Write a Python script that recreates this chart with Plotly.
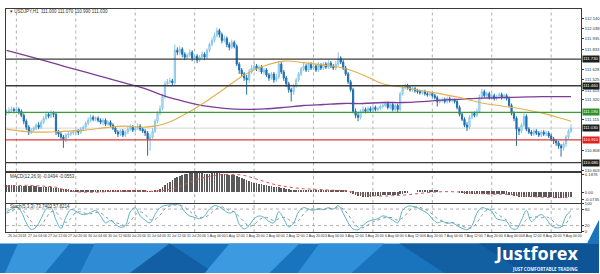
import plotly.graph_objects as go

W, H = 600, 274

# ---------------- data (USDJPY H1) ----------------
first_open = 111.18
closes = [
111.19,111.21,111.22,111.21,111.22,111.20,111.16,111.10,111.04,110.99,
111.01,111.03,111.06,111.04,111.09,111.13,111.17,111.15,111.18,111.17,
110.99,110.97,110.94,110.92,110.96,110.97,110.98,110.99,111.00,110.99,
111.02,111.04,111.08,111.11,111.14,111.12,111.13,111.11,111.09,111.11,
111.07,111.09,111.06,111.03,110.99,110.97,111.00,110.96,110.99,111.02,
111.04,111.01,111.03,111.05,111.02,111.00,110.98,110.92,110.94,111.00,
111.10,111.18,111.23,111.35,111.48,111.50,111.51,111.49,111.82,111.80,
111.83,111.78,111.75,111.77,111.80,111.74,111.76,111.72,111.75,111.78,
111.75,111.82,111.88,111.92,111.97,112.02,111.98,111.92,111.94,111.88,
111.85,111.90,111.86,111.68,111.62,111.58,111.54,111.52,111.60,111.64,
111.66,111.63,111.65,111.60,111.62,111.57,111.54,111.58,111.52,111.55,
111.68,111.60,111.54,111.48,111.42,111.40,111.46,111.52,111.58,111.63,
111.66,111.62,111.68,111.64,111.66,111.62,111.67,111.64,111.68,111.65,
111.69,111.66,111.64,111.68,111.74,111.70,111.64,111.58,111.50,111.42,
111.20,111.16,111.14,111.20,111.22,111.20,111.23,111.21,111.24,111.22,
111.23,111.25,111.26,111.28,111.24,111.27,111.22,111.26,111.22,111.38,
111.44,111.46,111.44,111.42,111.43,111.41,111.40,111.39,111.40,111.38,
111.37,111.38,111.36,111.34,111.30,111.31,111.32,111.30,111.33,111.31,
111.32,111.30,111.24,111.17,111.12,111.06,111.04,111.14,111.18,111.16,
111.20,111.34,111.40,111.36,111.38,111.34,111.36,111.33,111.35,111.37,
111.34,111.36,111.33,111.26,111.18,111.13,111.02,111.00,111.06,111.15,
111.02,110.99,110.97,111.00,110.98,110.96,110.99,110.97,110.98,110.95,
110.92,110.90,110.88,110.85,110.83,110.87,110.94,111.00,111.03]
highs = [
111.22,111.24,111.25,111.24,111.25,111.24,111.22,111.18,111.12,111.06,
111.03,111.05,111.08,111.09,111.11,111.15,111.20,111.19,111.21,111.20,
111.19,111.01,110.99,110.96,110.98,111.00,111.00,111.01,111.02,111.02,
111.04,111.06,111.10,111.14,111.17,111.16,111.15,111.15,111.13,111.13,
111.13,111.11,111.11,111.08,111.05,111.01,111.02,111.02,111.01,111.04,
111.07,111.06,111.05,111.08,111.07,111.04,111.02,111.00,110.97,111.03,
111.12,111.20,111.26,111.38,111.51,111.53,111.54,111.53,111.88,111.85,
111.86,111.85,111.80,111.79,111.83,111.82,111.78,111.78,111.77,111.81,
111.80,111.84,111.90,111.95,112.00,112.05,112.04,112.00,111.97,111.96,
111.90,111.93,111.92,111.88,111.70,111.64,111.60,111.57,111.63,111.67,
111.69,111.68,111.67,111.67,111.64,111.64,111.59,111.60,111.60,111.58,
111.71,111.70,111.62,111.56,111.50,111.44,111.48,111.54,111.60,111.65,
111.69,111.68,111.70,111.70,111.68,111.68,111.70,111.69,111.70,111.70,
111.72,111.71,111.68,111.71,111.80,111.76,111.72,111.66,111.60,111.52,
111.44,111.23,111.19,111.22,111.25,111.24,111.25,111.25,111.26,111.26,
111.25,111.27,111.29,111.30,111.30,111.29,111.29,111.28,111.28,111.40,
111.46,111.48,111.48,111.46,111.45,111.45,111.43,111.42,111.42,111.42,
111.40,111.40,111.40,111.38,111.36,111.33,111.34,111.34,111.35,111.35,
111.34,111.33,111.32,111.26,111.19,111.14,111.09,111.16,111.20,111.20,
111.23,111.37,111.43,111.42,111.40,111.40,111.38,111.38,111.37,111.39,
111.39,111.38,111.38,111.35,111.28,111.20,111.15,111.04,111.08,111.18,
111.17,111.04,111.01,111.02,111.02,111.00,111.01,111.01,111.00,111.00,
110.97,110.94,110.92,110.90,110.87,110.89,110.96,111.02,111.07]
lows = [
111.16,111.17,111.19,111.18,111.19,111.17,111.14,111.07,111.01,110.96,
110.97,110.99,111.01,111.02,111.02,111.07,111.11,111.13,111.13,111.14,
110.96,110.94,110.91,110.83,110.89,110.93,110.95,110.96,110.97,110.96,
110.97,111.00,111.02,111.06,111.09,111.10,111.10,111.09,111.07,111.06,
111.05,111.05,111.04,111.01,110.97,110.94,110.95,110.94,110.94,110.97,
111.00,110.99,110.99,111.01,111.00,110.98,110.95,110.75,110.80,110.92,
110.98,111.08,111.16,111.21,111.33,111.46,111.48,111.46,111.47,111.77,
111.77,111.75,111.72,111.73,111.75,111.71,111.72,111.69,111.70,111.73,
111.72,111.73,111.80,111.86,111.90,111.95,111.95,111.89,111.90,111.85,
111.82,111.83,111.84,111.66,111.58,111.55,111.51,111.37,111.49,111.58,
111.62,111.61,111.60,111.58,111.57,111.55,111.51,111.52,111.49,111.50,
111.53,111.58,111.51,111.45,111.39,111.30,111.37,111.44,111.50,111.56,
111.61,111.60,111.60,111.62,111.62,111.60,111.60,111.62,111.62,111.63,
111.63,111.64,111.62,111.62,111.66,111.68,111.62,111.56,111.48,111.40,
111.18,111.13,111.10,111.12,111.18,111.18,111.18,111.19,111.19,111.20,
111.20,111.21,111.23,111.24,111.22,111.22,111.20,111.20,111.19,111.20,
111.36,111.42,111.42,111.40,111.40,111.39,111.38,111.37,111.37,111.36,
111.35,111.35,111.34,111.32,111.25,111.28,111.29,111.28,111.28,111.29,
111.29,111.28,111.22,111.15,111.10,111.04,111.00,111.02,111.12,111.14,
111.14,111.18,111.32,111.34,111.34,111.32,111.32,111.31,111.31,111.33,
111.32,111.32,111.31,111.24,111.16,111.10,110.85,110.96,110.98,111.04,
111.00,110.97,110.95,110.95,110.96,110.94,110.94,110.95,110.95,110.93,
110.90,110.87,110.85,110.82,110.74,110.80,110.84,110.92,110.98]
opens = [first_open] + closes[:-1]
bars = list(range(len(closes)))

# moving averages, sampled every 8 bars (+ last bar)
ma_bars = list(range(0, 225, 8)) + [228]
ma_purple = [111.82,111.765,111.71,111.653,111.598,111.542,111.487,111.43,111.355,111.30,
             111.255,111.23,111.22,111.225,111.24,111.26,111.27,111.28,111.28,111.29,
             111.29,111.30,111.315,111.325,111.335,111.34,111.345,111.35,111.35,111.35]
ma_orange = [111.02,110.995,110.99,111.00,111.01,111.035,111.05,111.04,111.075,111.17,
             111.29,111.43,111.57,111.66,111.71,111.695,111.67,111.64,111.57,111.48,
             111.445,111.41,111.375,111.335,111.285,111.255,111.225,111.185,111.13,111.10]

# horizontal levels
levels_black = [111.73, 111.46, 110.68]
level_green = 111.19
level_red = 110.91
current_price = 111.03

# MACD(12,26,9)
macd_hist = (
 [0.07,0.07,0.07,0.07,0.06,0.06,0.06,0.06,0.06,0.06,0.06,0.06,0.06,0.05,0.05,0.05,0.05,0.05,0.05]
 + [0.04,0.04,0.04,0.03,0.03,0.03,0.03,0.02,0.02,0.02,0.01,0.01,0.01]
 + [0.01,0.01,0.01,0.01,0.01,0.01,0.01,0.01,0.015,0.015,0.015,0.01,0.01,0.01,0.01,0.01,0.01,0.01,
    0.01,0.01,0.01,0.01,0.01,0.01,0.01,0.005,0.005,0.005]
 + [0.01,0.02,0.03,0.05,0.07,0.09,0.10,0.12,0.14,0.15,0.16,0.17,0.18,0.18,0.19,0.19]
 + [0.19,0.19,0.19,0.19,0.18,0.18,0.18,0.19,0.19,0.19,0.19,0.18,0.18,0.18,0.17,0.17,0.17]
 + [0.16,0.15,0.14,0.13,0.12,0.11,0.10,0.09,0.09,0.08,0.08,0.07,0.07,0.06,0.06,0.05,0.05,0.05]
 + [0.04,0.04,0.03,0.03,0.02,0.02,0.02,0.02,0.02,0.02,0.02,0.02,0.02,0.02,0.02,0.02,0.02,0.02,
    0.02,0.02,0.02,0.02,0.02,0.02,0.02,0.01,0.01,0.0,-0.01]
 + [-0.02,-0.03,-0.04,-0.04,-0.05,-0.05,-0.05,-0.05,-0.04,-0.04,-0.04,-0.04,-0.03,-0.03,-0.03,
    -0.03,-0.03,-0.03,-0.03,-0.02,-0.02]
 + [-0.01,-0.01,0.0,0.0,0.0,0.01,0.01,0.01,0.01,0.01,0.01,0.01,0.01,0.01,0.0,0.0,0.0,0.0,0.0,
    0.0,0.0,0.0,-0.01,-0.01,-0.02,-0.02,-0.02,-0.02,-0.02,-0.02,-0.02]
 + [-0.02,-0.02,-0.02,-0.02,-0.02,-0.02,-0.02,-0.02,-0.02,-0.02,-0.02,-0.03,-0.03,-0.04,-0.04,
    -0.05,-0.05,-0.05,-0.05,-0.05,-0.05,-0.05,-0.05,-0.05,-0.05,-0.05,-0.05,-0.05,-0.05,
    -0.06,-0.06,-0.06,-0.06,-0.06,-0.05,-0.05,-0.05])
sig_bars = list(range(0, 229, 4))
macd_signal = [0.06,0.065,0.07,0.065,0.06,0.05,0.02,0.005,0.0,0.0,
               0.005,0.01,0.01,0.01,0.01,0.01,0.02,0.04,0.08,0.12,
               0.15,0.17,0.18,0.18,0.17,0.14,0.11,0.08,0.06,0.045,
               0.035,0.03,0.025,0.02,0.015,0.0,-0.02,-0.035,-0.04,-0.035,
               -0.03,-0.02,-0.01,0.0,0.005,0.005,0.0,-0.01,-0.015,-0.02,
               -0.02,-0.025,-0.035,-0.045,-0.05,-0.055,-0.055,-0.055]

# Stochastic(5,3,3), sampled every 2 bars
st_bars = list(range(0, 229, 2))
stoch_k = [70,80,88,70,30,6,15,45,80,85,
           40,10,50,78,72,62,60,68,75,55,
           30,38,25,14,20,70,85,55,40,30,
           60,85,93,95,96,94,70,55,50,45,
           55,80,92,88,75,65,70,25,8,20,
           45,55,50,35,30,70,45,15,30,70,
           85,80,75,82,78,85,80,92,65,30,
           8,5,20,35,40,45,55,50,40,30,
           75,90,90,85,75,65,45,30,35,28,
           30,20,10,5,20,65,85,80,72,45,
           40,35,10,8,40,75,35,50,60,45,
           20,12,15,55,74]
stoch_d = [65,72,80,80,60,35,17,22,47,70,
           68,45,32,46,67,70,64,63,68,66,
           52,40,31,26,20,35,58,70,60,42,
           43,58,80,91,95,95,86,72,58,50,
           50,60,76,87,85,75,70,52,34,18,
           24,40,50,47,38,45,50,42,30,38,
           62,78,80,79,78,82,81,86,80,60,
           34,15,12,22,33,40,47,50,48,40,
           48,66,84,88,83,75,61,46,37,31,
           31,26,18,12,12,30,57,77,79,64,
           51,40,28,18,20,42,50,52,48,52,
           42,26,16,28,58]

# axis labels (those hidden behind the level boxes are left out, as in MT4)
price_ticks = [112.140,112.038,111.935,111.833,111.628,111.525,111.415,
               111.320,111.115,110.808,110.603]
time_label_bars = list(range(0, 225, 8))
time_labels = ["26 Jul 2018","27 Jul 04:00","27 Jul 12:00","27 Jul 20:00","30 Jul 04:00",
               "30 Jul 12:00","30 Jul 20:00","31 Jul 04:00","31 Jul 12:00","31 Jul 20:00",
               "1 Aug 04:00","1 Aug 12:00","1 Aug 20:00","2 Aug 04:00","2 Aug 12:00",
               "2 Aug 20:00","3 Aug 04:00","3 Aug 12:00","3 Aug 20:00","6 Aug 04:00",
               "6 Aug 12:00","6 Aug 20:00","7 Aug 04:00","7 Aug 12:00","7 Aug 20:00",
               "8 Aug 04:00","8 Aug 12:00","8 Aug 20:00","9 Aug 04:00"]
day_grid_bars = [4, 28, 52, 76, 100, 124, 148, 172, 196, 220]

# ---------------- layout helpers ----------------
def px(x):
    return x / W

def py(y):
    return 1 - y / H

FONT = "Liberation Sans"
TXT = "#333333"
XR = [-0.2, 232.06]

fig = go.Figure()

fig.add_trace(go.Candlestick(
    x=bars, open=opens, high=highs, low=lows, close=closes,
    xaxis="x", yaxis="y",
    increasing=dict(line=dict(color="#86c5e8", width=1), fillcolor="#d8eef9"),
    decreasing=dict(line=dict(color="#1f6fae", width=1), fillcolor="#1f6fae"),
    whiskerwidth=0, showlegend=False, hoverinfo="skip"))

fig.add_trace(go.Scatter(x=ma_bars, y=ma_purple, mode="lines", xaxis="x", yaxis="y",
                         line=dict(color="#7d3c98", width=1.3, shape="spline"),
                         showlegend=False, hoverinfo="skip"))
fig.add_trace(go.Scatter(x=ma_bars, y=ma_orange, mode="lines", xaxis="x", yaxis="y",
                         line=dict(color="#e2b04c", width=1.1, shape="spline"),
                         showlegend=False, hoverinfo="skip"))

fig.add_trace(go.Bar(x=bars, y=macd_hist, xaxis="x2", yaxis="y2", width=0.28,
                     marker=dict(color="#5a5a5a", line=dict(width=0)),
                     showlegend=False, hoverinfo="skip"))
fig.add_trace(go.Scatter(x=sig_bars, y=macd_signal, mode="lines", xaxis="x2", yaxis="y2",
                         line=dict(color="#e05050", width=1, dash="dot", shape="spline"),
                         showlegend=False, hoverinfo="skip"))

fig.add_trace(go.Scatter(x=st_bars, y=stoch_k, mode="lines", xaxis="x3", yaxis="y3",
                         line=dict(color="#58b4c4", width=1, shape="spline"),
                         showlegend=False, hoverinfo="skip"))
fig.add_trace(go.Scatter(x=st_bars, y=stoch_d, mode="lines", xaxis="x3", yaxis="y3",
                         line=dict(color="#8c96a0", width=1, dash="dot", shape="spline"),
                         showlegend=False, hoverinfo="skip"))

frame = dict(showline=True, mirror=True, linecolor="#3a3a3a", linewidth=1,
             showgrid=False, zeroline=False)
xdom = [px(6), px(582)]
tickfont = dict(size=4.2, color=TXT, family=FONT)

fig.update_layout(
    width=W, height=H, margin=dict(l=0, r=0, t=0, b=0),
    paper_bgcolor="white", plot_bgcolor="white", bargap=0,
    font=dict(family=FONT, size=5, color=TXT),
    xaxis=dict(domain=xdom, range=XR, anchor="y", showticklabels=False,
               rangeslider=dict(visible=False), fixedrange=True, **frame),
    xaxis2=dict(domain=xdom, range=XR, anchor="y2", showticklabels=False, **frame),
    xaxis3=dict(domain=xdom, range=XR, anchor="y3", showticklabels=False, **frame),
    yaxis=dict(domain=[py(171), py(6)], range=[110.59, 112.24], side="right",
               tickvals=price_ticks, ticktext=[f"{v:.3f}" for v in price_ticks],
               ticks="outside", ticklen=2, tickcolor="#3a3a3a", tickfont=tickfont, **frame),
    yaxis2=dict(domain=[py(203), py(172)], range=[-0.11, 0.20], side="right",
                tickvals=[0.175, 0.0, -0.07], ticktext=["0.1876", "0.00", "-0.0735"],
                ticks="outside", ticklen=2, tickcolor="#3a3a3a", tickfont=tickfont, **frame),
    yaxis3=dict(domain=[py(232.5), py(203.5)], range=[-3.6, 100], side="right",
                tickvals=[100, 80, 20, 0], ticktext=["100", "80", "20", "0"],
                ticks="outside", ticklen=2, tickcolor="#3a3a3a", tickfont=tickfont, **frame),
)

shapes = []
# banner background and facets (drawn below everything)
banner_top = 244
shapes.append(dict(type="rect", xref="paper", yref="paper", x0=0, x1=1, y0=0, y1=py(banner_top),
                   fillcolor="#1a74bd", line=dict(width=0), layer="below"))
facets = [
    ([(18, 244), (70, 244), (45, 274), (5, 274)], "#3897dc"),
    ([(95, 244), (170, 244), (140, 274), (80, 274)], "#2e8bd4"),
    ([(170, 244), (215, 274), (130, 274)], "#135fa5"),
    ([(230, 244), (300, 244), (270, 274), (205, 274)], "#3c9ae0"),
    ([(320, 244), (385, 244), (352, 274), (298, 274)], "#2f8fd8"),
    ([(400, 244), (600, 244), (600, 274), (445, 274)], "#125fa2"),
    ([(480, 244), (600, 244), (600, 274), (525, 274)], "#0e5597"),
    ([(588, 244), (600, 220), (600, 244)], "#1a74bd"),
]
for pts, col in facets:
    path = "M " + " L ".join(f"{px(x):.4f},{py(y):.4f}" for x, y in pts) + " Z"
    shapes.append(dict(type="path", xref="paper", yref="paper", path=path,
                       fillcolor=col, line=dict(width=0), layer="below"))

# vertical day grid in all panels
for xa, ya in (("x", "y"), ("x2", "y2"), ("x3", "y3")):
    for b in day_grid_bars:
        shapes.append(dict(type="line", xref=xa, yref=f"{ya} domain", x0=b, x1=b, y0=0, y1=1,
                           line=dict(color="#9a9a9a", width=0.8, dash="dot"), layer="below"))

# price levels
shapes.append(dict(type="line", xref="x domain", yref="y", x0=0, x1=1, y0=current_price,
                   y1=current_price, line=dict(color="#c9c9c9", width=0.8), layer="below"))
for lv in levels_black:
    shapes.append(dict(type="line", xref="x domain", yref="y", x0=0, x1=1, y0=lv, y1=lv,
                       line=dict(color="#3c3c3c", width=1.3)))
shapes.append(dict(type="line", xref="x domain", yref="y", x0=0, x1=1, y0=level_green,
                   y1=level_green, line=dict(color="#3c9a3c", width=1.2)))
shapes.append(dict(type="line", xref="x domain", yref="y", x0=0, x1=1, y0=level_red,
                   y1=level_red, line=dict(color="#e23a3a", width=1.2)))
# stochastic levels
for lv in (80, 20):
    shapes.append(dict(type="line", xref="x3 domain", yref="y3", x0=0, x1=1, y0=lv, y1=lv,
                       line=dict(color="#9a9a9a", width=0.8, dash="dot"), layer="below"))

fig.update_layout(shapes=shapes)

ann = []
small = dict(family=FONT, size=4.5, color=TXT)
ann.append(dict(xref="paper", yref="paper", x=px(8), y=py(9), xanchor="left", yanchor="middle",
                text="▾ USDJPY,H1  111.000 111.070 110.990 111.030", showarrow=False, font=small))
ann.append(dict(xref="paper", yref="paper", x=px(8), y=py(176.5), xanchor="left", yanchor="middle",
                text="MACD(12,26,9) -0.0494 -0.0553", showarrow=False, font=small))
ann.append(dict(xref="paper", yref="paper", x=px(8), y=py(206.5), xanchor="left", yanchor="middle",
                text="Stoch(5,3,3) 73.7403 57.8214", showarrow=False, font=small))

for b, t in zip(time_label_bars, time_labels):
    ann.append(dict(xref="x3", yref="paper", x=b, y=py(236), xanchor="left", yanchor="middle",
                    text=t, showarrow=False, font=dict(family=FONT, size=3.5, color=TXT)))

boxes = [(levels_black[0], "#1e1e1e"), (levels_black[1], "#1e1e1e"), (level_green, "#2f8f2f"),
         (current_price, "#1e1e1e"), (level_red, "#e02020"), (levels_black[2], "#1e1e1e")]
for v, col in boxes:
    ann.append(dict(xref="paper", yref="y", x=px(582.5), y=v, xanchor="left", yanchor="middle",
                    text=f"{v:.3f}", showarrow=False, bgcolor=col, borderpad=0.3,
                    font=dict(family=FONT, size=4.2, color="white")))

ann.append(dict(xref="paper", yref="paper", x=px(581), y=py(253.5), xanchor="right",
                yanchor="middle", text="<b>Justforex</b>", showarrow=False,
                font=dict(family="Open Sans", size=18, color="white")))
ann.append(dict(xref="paper", yref="paper", x=px(581), y=py(269.5), xanchor="right",
                yanchor="middle", text="<b>JUST COMFORTABLE TRADING</b>", showarrow=False,
                font=dict(family="Open Sans", size=4.4, color="#e8f2fb")))

fig.update_layout(annotations=ann)

fig.write_html("out.html")
